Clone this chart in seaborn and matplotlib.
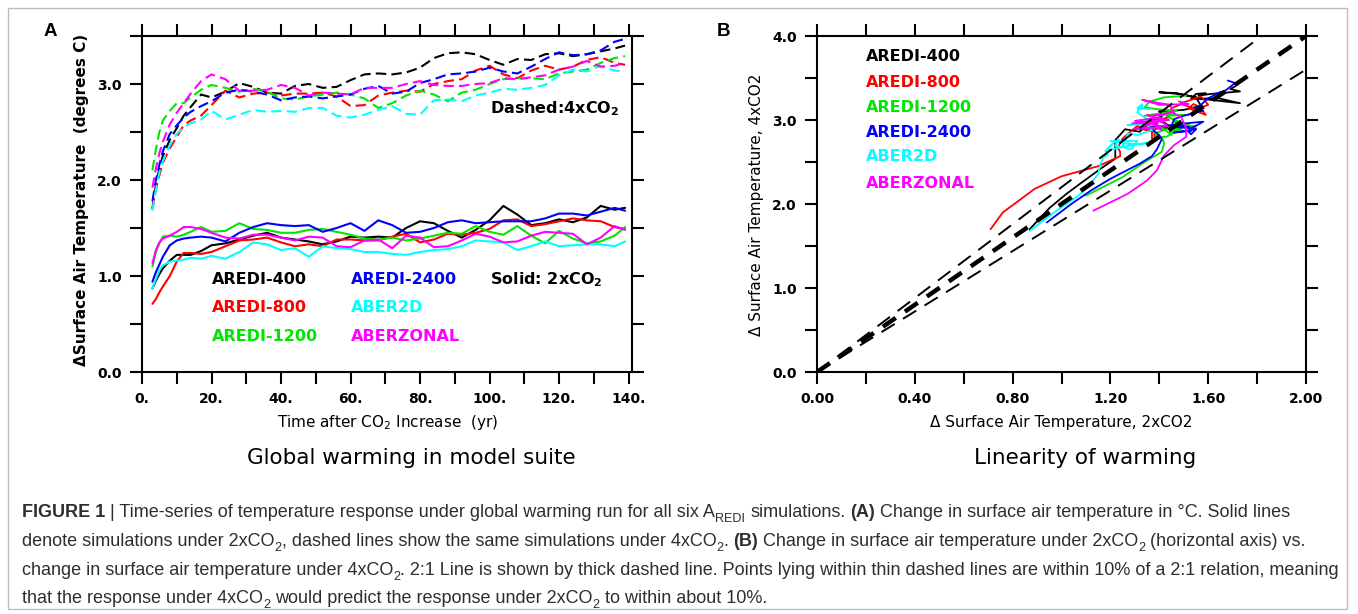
import numpy as np
import pandas as pd
import matplotlib
matplotlib.use('Agg')
import matplotlib.pyplot as plt
import seaborn as sns
from matplotlib.ticker import MultipleLocator, FormatStrFormatter
from matplotlib.patches import Rectangle
from matplotlib import font_manager

# ---- data ----
years = [3, 4, 5, 6, 8, 10, 12, 14, 17, 20,
         24, 28, 32, 36, 40, 44, 48, 52, 56, 60,
         64, 68, 72, 76, 80, 84, 88, 92, 96, 100,
         104, 108, 112, 116, 120, 124, 128, 132, 136, 139]

runs = ['AREDI-400', 'AREDI-800', 'AREDI-1200', 'AREDI-2400', 'ABER2D', 'ABERZONAL']
colors = ['#000000', '#ff0000', '#00e600', '#0000ff', '#00ffff', '#ff00ff']

# 2xCO2 (solid)
a400_2x = [0.87, 0.95, 1.02, 1.08, 1.16, 1.22, 1.22, 1.22, 1.26, 1.32,
           1.34, 1.38, 1.42, 1.45, 1.40, 1.38, 1.36, 1.33, 1.36, 1.41,
           1.40, 1.41, 1.40, 1.50, 1.57, 1.55, 1.47, 1.40, 1.48, 1.58,
           1.73, 1.64, 1.53, 1.55, 1.59, 1.56, 1.61, 1.73, 1.69, 1.71]
a800_2x = [0.71, 0.76, 0.83, 0.89, 1.00, 1.15, 1.24, 1.24, 1.23, 1.25,
           1.31, 1.37, 1.38, 1.40, 1.35, 1.31, 1.33, 1.31, 1.38, 1.38,
           1.37, 1.37, 1.41, 1.44, 1.35, 1.38, 1.44, 1.43, 1.45, 1.49,
           1.58, 1.59, 1.52, 1.54, 1.57, 1.60, 1.58, 1.57, 1.51, 1.49]
a1200_2x = [1.10, 1.25, 1.34, 1.41, 1.42, 1.41, 1.43, 1.46, 1.51, 1.46,
            1.47, 1.55, 1.49, 1.48, 1.45, 1.45, 1.48, 1.49, 1.46, 1.43,
            1.39, 1.38, 1.40, 1.37, 1.39, 1.42, 1.45, 1.44, 1.52, 1.46,
            1.43, 1.52, 1.42, 1.34, 1.47, 1.39, 1.34, 1.36, 1.42, 1.51]
a2400_2x = [0.94, 1.04, 1.12, 1.20, 1.32, 1.37, 1.39, 1.40, 1.41, 1.40,
            1.36, 1.45, 1.51, 1.55, 1.53, 1.52, 1.53, 1.46, 1.50, 1.55,
            1.47, 1.58, 1.53, 1.45, 1.46, 1.50, 1.56, 1.58, 1.55, 1.56,
            1.57, 1.57, 1.57, 1.60, 1.65, 1.65, 1.63, 1.67, 1.71, 1.68]
aber2d_2x = [0.87, 0.97, 1.06, 1.11, 1.15, 1.16, 1.17, 1.19, 1.18, 1.21,
             1.18, 1.25, 1.35, 1.33, 1.27, 1.29, 1.20, 1.31, 1.29, 1.28,
             1.25, 1.25, 1.23, 1.22, 1.25, 1.27, 1.28, 1.31, 1.37, 1.36,
             1.35, 1.27, 1.31, 1.36, 1.31, 1.32, 1.33, 1.33, 1.31, 1.36]
aberzonal_2x = [1.13, 1.27, 1.35, 1.39, 1.42, 1.46, 1.51, 1.51, 1.49, 1.45,
                1.40, 1.39, 1.43, 1.43, 1.40, 1.37, 1.41, 1.40, 1.31, 1.30,
                1.37, 1.38, 1.29, 1.42, 1.40, 1.30, 1.31, 1.37, 1.44, 1.41,
                1.35, 1.36, 1.42, 1.46, 1.45, 1.44, 1.33, 1.40, 1.52, 1.48]

# 4xCO2 (dashed)
a400_4x = [1.70, 1.95, 2.12, 2.25, 2.42, 2.54, 2.67, 2.76, 2.89, 2.86,
           2.92, 3.01, 2.97, 2.91, 2.90, 2.98, 3.00, 2.96, 2.97, 3.04,
           3.10, 3.11, 3.10, 3.12, 3.17, 3.27, 3.32, 3.33, 3.31, 3.25,
           3.20, 3.26, 3.25, 3.31, 3.32, 3.29, 3.31, 3.34, 3.37, 3.40]
a800_4x = [1.70, 1.90, 2.05, 2.18, 2.33, 2.45, 2.57, 2.62, 2.67, 2.78,
           2.93, 2.86, 2.90, 2.91, 2.88, 2.90, 2.90, 2.91, 2.87, 2.77,
           2.78, 2.88, 2.91, 2.93, 2.92, 3.00, 3.03, 3.05, 3.14, 3.19,
           3.10, 3.06, 3.14, 3.19, 3.15, 3.18, 3.25, 3.28, 3.22, 3.20]
a1200_4x = [2.10, 2.32, 2.50, 2.62, 2.72, 2.80, 2.80, 2.86, 2.94, 2.99,
            2.96, 2.92, 2.95, 2.92, 2.85, 2.84, 2.87, 2.89, 2.91, 2.89,
            2.85, 2.75, 2.80, 2.88, 2.93, 2.89, 2.82, 2.91, 2.94, 3.00,
            3.05, 3.06, 3.06, 3.05, 3.11, 3.13, 3.15, 3.22, 3.27, 3.29]
a2400_4x = [1.78, 2.00, 2.16, 2.30, 2.48, 2.57, 2.65, 2.71, 2.77, 2.82,
            2.91, 2.94, 2.92, 2.89, 2.83, 2.86, 2.87, 2.85, 2.87, 2.89,
            2.95, 2.98, 2.90, 2.92, 3.01, 3.05, 3.10, 3.11, 3.13, 3.17,
            3.13, 3.11, 3.18, 3.26, 3.33, 3.30, 3.31, 3.35, 3.44, 3.47]
aber2d_4x = [1.68, 1.90, 2.08, 2.20, 2.36, 2.48, 2.55, 2.59, 2.63, 2.72,
             2.63, 2.68, 2.73, 2.71, 2.72, 2.71, 2.75, 2.75, 2.67, 2.65,
             2.68, 2.73, 2.77, 2.69, 2.68, 2.83, 2.84, 2.82, 2.88, 2.91,
             2.95, 2.94, 2.96, 2.99, 3.09, 3.15, 3.13, 3.19, 3.14, 3.13]
aberzonal_4x = [1.92, 2.12, 2.28, 2.40, 2.58, 2.70, 2.80, 2.90, 3.03, 3.10,
                3.05, 2.93, 2.93, 2.94, 2.99, 2.96, 2.88, 2.91, 2.90, 2.89,
                2.96, 2.96, 2.96, 3.00, 3.03, 2.99, 2.98, 2.98, 3.00, 3.01,
                3.06, 3.05, 3.07, 3.09, 3.15, 3.18, 3.24, 3.18, 3.19, 3.22]

two_x = [a400_2x, a800_2x, a1200_2x, a2400_2x, aber2d_2x, aberzonal_2x]
four_x = [a400_4x, a800_4x, a1200_4x, a2400_4x, aber2d_4x, aberzonal_4x]

# 2:1 line and +-10% lines in panel B
ratios = [1.8, 2.0, 2.2]

# ---- tables for seaborn ----
rows = []
for name, t2, t4 in zip(runs, two_x, four_x):
    for yr, v2, v4 in zip(years, t2, t4):
        rows.append({'year': yr, 'dT': v2, 'run': name, 'case': '2x'})
        rows.append({'year': yr, 'dT': v4, 'run': name, 'case': '4x'})
df_a = pd.DataFrame(rows)

rows = []
for name, t2, t4 in zip(runs, two_x, four_x):
    for v2, v4 in zip(t2, t4):
        rows.append({'t2x': v2, 't4x': v4, 'run': name})
df_b = pd.DataFrame(rows)

pal = dict(zip(runs, colors))

sns.set_style('white')
plt.rcParams['font.family'] = ['DejaVu Sans']
plt.rcParams['font.weight'] = 'bold'
plt.rcParams['mathtext.default'] = 'regular'
plt.rcParams['text.color'] = 'black'
plt.rcParams['axes.labelcolor'] = 'black'
plt.rcParams['xtick.color'] = 'black'
plt.rcParams['ytick.color'] = 'black'

W, H = 1358, 614
fig = plt.figure(figsize=(W / 100, H / 100), dpi=100)

axA = fig.add_axes([142 / W, 1 - 372 / H, 490 / W, 336 / H])
axB = fig.add_axes([817 / W, 1 - 372 / H, 489 / W, 336 / H])

# panel A
sns.lineplot(data=df_a, x='year', y='dT', hue='run', style='case',
             palette=pal, dashes={'2x': '', '4x': (5, 2.5)},
             estimator=None, legend=False, lw=1.5, ax=axA)
axA.set_xlim(0, 141)
axA.set_ylim(0, 3.5)
axA.xaxis.set_major_locator(MultipleLocator(20))
axA.xaxis.set_minor_locator(MultipleLocator(10))
axA.xaxis.set_major_formatter(FormatStrFormatter('%d.'))
axA.yaxis.set_major_locator(MultipleLocator(1))
axA.yaxis.set_minor_locator(MultipleLocator(0.5))
axA.yaxis.set_major_formatter(FormatStrFormatter('%.1f'))

lx = [20, 20, 20, 60, 60, 60]
ly = [0.96, 0.67, 0.37, 0.96, 0.67, 0.37]
for name, c, x, y in zip(runs, colors, lx, ly):
    axA.text(x, y, name, color=c, fontsize=11.5, va='center', ha='left')
axA.text(100, 0.96, r'Solid: 2xCO$_\mathbf{2}$', fontsize=11.5, va='center', ha='left')
axA.text(100, 2.74, r'Dashed:4xCO$_\mathbf{2}$', fontsize=11.5, va='center', ha='left')

# panel B
sns.lineplot(data=df_b, x='t2x', y='t4x', hue='run', palette=pal, sort=False,
             estimator=None, legend=False, lw=1.3, ax=axB)
xx = np.array([0.0, 2.0])
for r in ratios:
    if r == 2.0:
        axB.plot(xx, r * xx, color='black', lw=3.2, dashes=(3.5, 2.5), zorder=5)
    else:
        axB.plot(xx, r * xx, color='black', lw=1.4, dashes=(8, 5), zorder=5)
axB.set_xlim(0, 2)
axB.set_ylim(0, 4)
axB.xaxis.set_major_locator(MultipleLocator(0.4))
axB.xaxis.set_minor_locator(MultipleLocator(0.2))
axB.xaxis.set_major_formatter(FormatStrFormatter('%.2f'))
axB.yaxis.set_major_locator(MultipleLocator(1))
axB.yaxis.set_minor_locator(MultipleLocator(0.5))
axB.yaxis.set_major_formatter(FormatStrFormatter('%.1f'))

by = [3.76, 3.45, 3.15, 2.85, 2.56, 2.25]
for name, c, y in zip(runs, colors, by):
    axB.text(0.20, y, name, color=c, fontsize=11.5, va='center', ha='left')

for ax in (axA, axB):
    ax.set_xlabel('')
    ax.set_ylabel('')
    for sp in ax.spines.values():
        sp.set_visible(True)
        sp.set_color('black')
        sp.set_linewidth(1.5)
    ax.tick_params(which='both', direction='out', length=8.5, width=1.5,
                   top=True, right=True, bottom=True, left=True,
                   colors='black', labelcolor='black', labelsize=10, pad=6)


def px(x, y):
    return x / W, 1 - y / H


# axis labels and titles
fig.text(*px(82, 200), 'ΔSurface Air Temperature  (degrees C)', rotation=90,
         ha='center', va='center', fontsize=11)
fig.text(*px(388, 422), 'Time after CO$_2$ Increase  (yr)', ha='center',
         va='center', fontsize=11, fontweight='normal')
fig.text(*px(411, 458), 'Global warming in model suite', ha='center',
         va='center', fontsize=15.5, fontweight='normal')
fig.text(*px(756, 205), 'Δ Surface Air Temperature, 4xCO2', rotation=90,
         ha='center', va='center', fontsize=11, fontweight='normal')
fig.text(*px(1061, 422), 'Δ Surface Air Temperature, 2xCO2', ha='center',
         va='center', fontsize=11, fontweight='normal')
fig.text(*px(1085, 458), 'Linearity of warming', ha='center',
         va='center', fontsize=15.5, fontweight='normal')

fig.text(*px(50, 32), 'A', ha='center', va='center', fontsize=13.5,
         family=['Liberation Sans', 'DejaVu Sans'], fontweight='bold')
fig.text(*px(724, 32), 'B', ha='center', va='center', fontsize=13.5,
         family=['Liberation Sans', 'DejaVu Sans'], fontweight='bold')

# frame
fig.add_artist(Rectangle((8 / W, 5 / H), 1339 / W, 601 / H, transform=fig.transFigure,
                         fill=False, edgecolor='#bdbdbd', lw=1))

# caption, laid out run by run
names = font_manager.get_font_names()
cap_fam = ['Liberation Sans Narrow'] if 'Liberation Sans Narrow' in names else ['Liberation Sans']
cap_fam = cap_fam + ['DejaVu Sans']
cap_col = '#2e2e2e'
renderer = fig.canvas.get_renderer()

cap_lines = [
    [('FIGURE 1', 'b'), (' | Time-series of temperature response under global warming run for all six A', 'n'),
     ('REDI', 's'), (' simulations. ', 'n'), ('(A)', 'b'),
     (' Change in surface air temperature in °C. Solid lines', 'n')],
    [('denote simulations under 2xCO', 'n'), ('2', 's'),
     (', dashed lines show the same simulations under 4xCO', 'n'), ('2', 's'), ('. ', 'n'),
     ('(B)', 'b'), (' Change in surface air temperature under 2xCO', 'n'), ('2', 's'),
     (' (horizontal axis) vs.', 'n')],
    [('change in surface air temperature under 4xCO', 'n'), ('2', 's'),
     ('. 2:1 Line is shown by thick dashed line. Points lying within thin dashed lines '
      'are within 10% of a 2:1 relation, meaning', 'n')],
    [('that the response under 4xCO', 'n'), ('2', 's'),
     (' would predict the response under 2xCO', 'n'), ('2', 's'),
     (' to within about 10%.', 'n')],
]


def run_kw(kind, size):
    kw = dict(family=cap_fam, color=cap_col, fontsize=size, fontweight='normal')
    if kind == 'b':
        kw['fontweight'] = 'bold'
    if kind == 's':
        kw['fontsize'] = size * 0.7
    return kw


def width(s, kw):
    if not s:
        return 0.0
    t = fig.text(0, 0, s, **kw)
    w = t.get_window_extent(renderer).width
    t.remove()
    return w


def space_w(kw):
    return width('a a', kw) - width('aa', kw)


def layout(line, size, x0=None, base=None):
    x = 0.0 if x0 is None else x0
    for s, kind in line:
        kw = run_kw(kind, size)
        sp = space_w(kw)
        core = s.strip(' ')
        lead = len(s) - len(s.lstrip(' '))
        trail = len(s) - len(s.rstrip(' '))
        x += lead * sp
        if x0 is not None:
            # subscripts sit below the baseline (y measured from the top here)
            yb = base + (size * 0.35 if kind == 's' else 0)
            fig.text(x / W, (H - yb) / H, core, ha='left', va='baseline', **kw)
        x += width(core, kw) + trail * sp
    return x


size0 = 12.0
w3 = layout(cap_lines[2], size0)
cap_size = size0 * 1316 / w3
for line, yb in zip(cap_lines, [517, 546, 575, 603]):
    layout(line, cap_size, x0=22, base=yb)

fig.savefig('out.png', dpi=100)
